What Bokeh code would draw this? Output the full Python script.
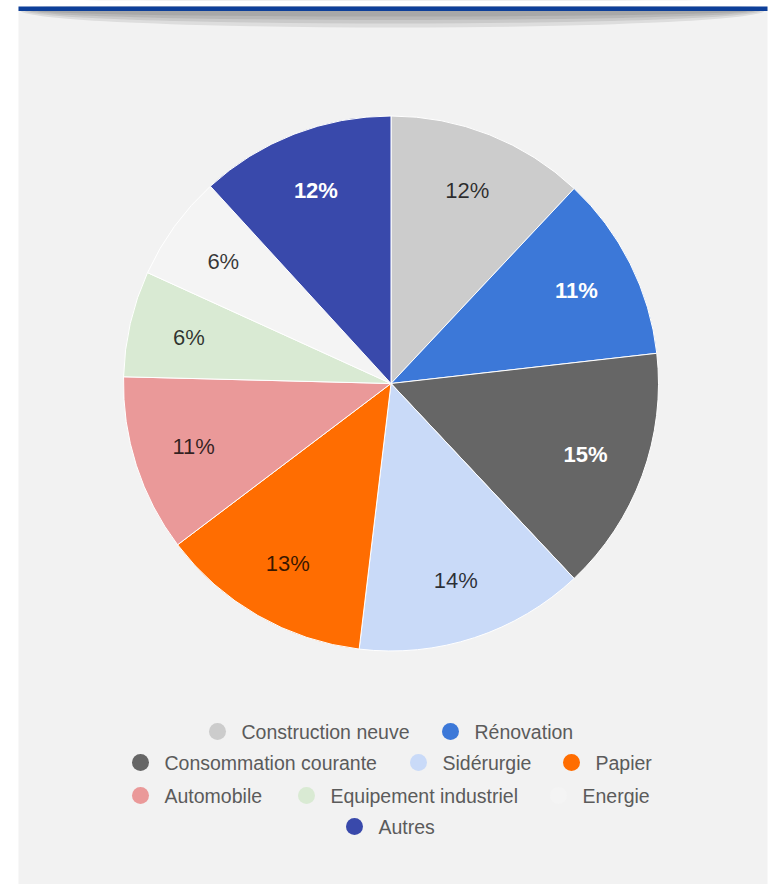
import math
from bokeh.plotting import figure
from bokeh.models import Range1d, ColumnDataSource
from bokeh.core.properties import value
from bokeh.embed import file_html
from bokeh.resources import INLINE

# ---- data ----
categories = ["Construction neuve", "Rénovation", "Consommation courante", "Sidérurgie",
              "Papier", "Automobile", "Equipement industriel", "Energie", "Autres"]
shares = [12.0, 11.2, 14.8, 13.9, 12.8, 10.7, 6.4, 6.4, 11.8]
colors = ["#cccccc", "#3c78d8", "#666666", "#c9daf8", "#ff6d01",
          "#ea9999", "#d9ead3", "#f4f4f4", "#3949ab"]

# legend layout: rows of (category index, circle x on page), row y on page
legend_rows = [
    (731, [(0, 217), (1, 450)]),
    (762, [(2, 140), (3, 418), (4, 571)]),
    (795, [(5, 140), (6, 306), (7, 558)]),
    (826, [(8, 354)]),
]

W, H = 771, 884
def X(px):
    return px
def Y(py):
    return H - py

FONT = value("Liberation Sans")

p = figure(width=W, height=H, x_range=Range1d(0, W), y_range=Range1d(0, H),
           output_backend="svg", toolbar_location=None,
           x_axis_type=None, y_axis_type=None, min_border=0,
           outline_line_color=None, background_fill_color="white",
           border_fill_color="white")
p.grid.visible = False

# panel background
p.quad(left=[X(18)], right=[X(767)], bottom=[0], top=[Y(6)],
       fill_color="#f2f2f2", line_color=None)

# shadow under top bar
for w_, h_ in [(744, 34), (736, 26), (726, 19), (714, 12)]:
    p.ellipse(x=[X(392)], y=[Y(10)], width=[w_], height=[h_],
              fill_color="black", fill_alpha=0.085, line_color=None)

# white strip above the bar, then the bar
p.quad(left=[0], right=[W], bottom=[Y(6)], top=[H],
       fill_color="white", line_color=None)
p.quad(left=[X(18)], right=[X(767)], bottom=[Y(10.5)], top=[Y(6)],
       fill_color="#0d3f99", line_color=None)

# ---- pie ----
cx, cy, R = X(390.5), Y(383), 267.5
total = sum(shares)
starts, ends, lx, ly, labels = [], [], [], [], []
cum = 0.0
for v in shares:
    a0 = math.pi / 2 - 2 * math.pi * cum / total
    a1 = math.pi / 2 - 2 * math.pi * (cum + v) / total
    starts.append(a0)
    ends.append(a1)
    am = (a0 + a1) / 2
    lx.append(cx + 0.775 * R * math.cos(am))
    ly.append(cy + 0.775 * R * math.sin(am))
    labels.append(f"{round(v / total * 100)}%")
    cum += v

src = ColumnDataSource(dict(start=starts, end=ends, color=colors))
p.wedge(x=cx, y=cy, radius=R, start_angle="start", end_angle="end",
        direction="clock", fill_color="color", line_color="white",
        line_width=1, source=src)

def is_dark(hexc):
    r, g, b = (int(hexc[i:i + 2], 16) for i in (1, 3, 5))
    return (0.299 * r + 0.587 * g + 0.114 * b) < 140

dark_idx = [i for i, c in enumerate(colors) if is_dark(c)]
light_idx = [i for i, c in enumerate(colors) if not is_dark(c)]

p.text(x=[lx[i] for i in dark_idx], y=[ly[i] for i in dark_idx],
       text=[labels[i] for i in dark_idx], text_color="white",
       text_font=FONT, text_font_size="22px", text_font_style="bold",
       text_align="center", text_baseline="middle")
p.text(x=[lx[i] for i in light_idx], y=[ly[i] for i in light_idx],
       text=[labels[i] for i in light_idx], text_color="black", text_alpha=0.78,
       text_font=FONT, text_font_size="22px",
       text_align="center", text_baseline="middle")

# ---- legend ----
gx, gy, gc, tx, tt = [], [], [], [], []
for row_y, items in legend_rows:
    for idx, cxp in items:
        gx.append(X(cxp))
        gy.append(Y(row_y))
        gc.append(colors[idx])
        tx.append(X(cxp + 24))
        tt.append(categories[idx])

p.scatter(x=gx, y=gy, size=17, marker="circle", fill_color=gc, line_color=None)
p.text(x=tx, y=gy, text=tt, text_color="#5b5b5b", text_font=FONT,
       text_font_size="19.5px", text_align="left", text_baseline="middle")

open("out.html", "w").write(file_html(p, INLINE))
